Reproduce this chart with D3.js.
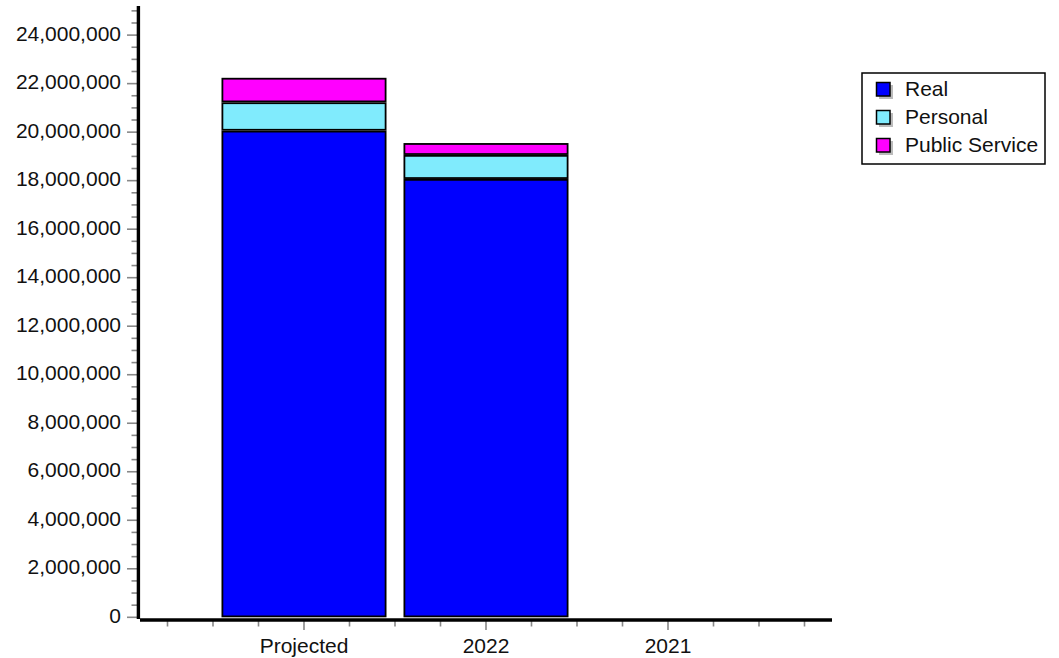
<!DOCTYPE html>
<html>
<head>
<meta charset="utf-8">
<script src="https://cdn.jsdelivr.net/npm/d3@7/dist/d3.min.js"></script>
<style>
  html, body { margin: 0; padding: 0; background: #fff; }
  svg { display: block; font-family: "Liberation Sans", Arial, sans-serif; }
</style>
</head>
<body>
<svg id="chart" width="1059" height="658"></svg>
<script>
const categories = ["Projected", "2022", "2021"];
const seriesNames = ["Real", "Personal", "Public Service"];
const realValues = [20060000, 18070000, 0];
const personalValues = [1170000, 990000, 0];
const publicServiceValues = [1010000, 490000, 0];
const yTickValues = [0, 2000000, 4000000, 6000000, 8000000, 10000000, 12000000, 14000000, 16000000, 18000000, 20000000, 22000000, 24000000];
const colors = ["#0000ff", "#80ebfd", "#ff00ff"];

const svg = d3.select("#chart");

const rows = categories.map((c, i) => ({
  cat: c,
  "Real": realValues[i],
  "Personal": personalValues[i],
  "Public Service": publicServiceValues[i]
}));

const y = d3.scaleLinear().domain([0, 25200000]).range([617.3, 6]);
const x = d3.scaleBand().domain(categories).range([213, 759])
  .paddingInner(0.0934).paddingOuter(0.0467);

const stack = d3.stack().keys(seriesNames);
const layers = stack(rows);

// bars
const sw = 1.8;
const g = svg.append("g");
layers.forEach((layer, li) => {
  g.selectAll(null).data(layer.filter(d => d[1] - d[0] > 0)).enter().append("rect")
    .attr("x", d => x(d.data.cat) + sw / 2)
    .attr("width", x.bandwidth() - sw)
    .attr("y", d => y(d[1]) + sw / 2)
    .attr("height", d => Math.max(0, y(d[0]) - y(d[1]) - sw))
    .attr("fill", colors[li])
    .attr("stroke", "#000")
    .attr("stroke-width", sw);
});

// y minor ticks
const yMinor = d3.range(0, 25200001, 500000);
svg.append("g").selectAll("line").data(yMinor).enter().append("line")
  .attr("x1", d => (d % 2000000 === 0) ? 127 : 131.5)
  .attr("x2", 137)
  .attr("y1", d => y(d)).attr("y2", d => y(d))
  .attr("stroke", "#888").attr("stroke-width", 1.6);

// y labels
svg.append("g").selectAll("text").data(yTickValues).enter().append("text")
  .attr("x", 121)
  .attr("y", d => y(d))
  .attr("dy", "0.27em")
  .attr("text-anchor", "end")
  .attr("font-size", 21)
  .attr("fill", "#111")
  .text(d => d3.format(",")(d));

// y axis line
svg.append("line").attr("x1", 138.4).attr("x2", 138.4).attr("y1", 6).attr("y2", 619)
  .attr("stroke", "#000").attr("stroke-width", 3.4);

// x ticks
const step = x.step();
const xTicks = [];
categories.forEach(c => {
  const cx = x(c) + x.bandwidth() / 2;
  for (let k = -3; k <= 3; k++) {
    const px = cx + k * step / 4;
    if (!xTicks.some(t => Math.abs(t.px - px) < 1)) xTicks.push({ px, major: k === 0 });
  }
});
svg.append("g").selectAll("line").data(xTicks).enter().append("line")
  .attr("x1", d => d.px).attr("x2", d => d.px)
  .attr("y1", 621).attr("y2", d => d.major ? 630 : 626.5)
  .attr("stroke", "#888").attr("stroke-width", 1.6);

// x axis line
svg.append("line").attr("x1", 140).attr("x2", 832).attr("y1", 620).attr("y2", 620)
  .attr("stroke", "#000").attr("stroke-width", 3.4);

// x labels
svg.append("g").selectAll("text").data(categories).enter().append("text")
  .attr("x", d => x(d) + x.bandwidth() / 2)
  .attr("y", 653)
  .attr("text-anchor", "middle")
  .attr("font-size", 21)
  .attr("fill", "#111")
  .text(d => d);

// legend
const lg = svg.append("g");
lg.append("rect").attr("x", 862).attr("y", 73).attr("width", 183).attr("height", 91)
  .attr("fill", "#fff").attr("stroke", "#000").attr("stroke-width", 1.5);
seriesNames.forEach((s, i) => {
  const ty = 82 + i * 28;
  lg.append("rect").attr("x", 879).attr("y", ty + 3).attr("width", 14).attr("height", 14)
    .attr("fill", "#bbb");
  lg.append("rect").attr("x", 876.5).attr("y", ty + 0.5).attr("width", 13.5).attr("height", 13.5)
    .attr("fill", colors[i]).attr("stroke", "#000").attr("stroke-width", 1.5);
  lg.append("text").attr("x", 905).attr("y", ty + 14)
    .attr("font-size", 21).attr("fill", "#111").text(s);
});
</script>
</body>
</html>
